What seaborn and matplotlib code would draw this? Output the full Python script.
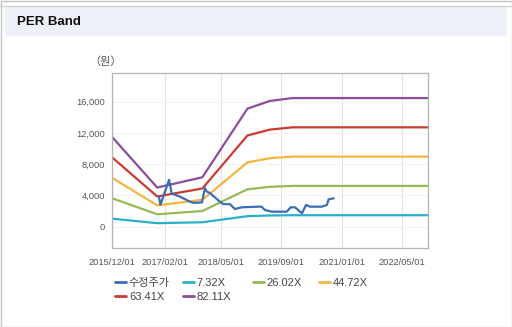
import matplotlib
matplotlib.use("Agg")
import matplotlib.pyplot as plt
from matplotlib.patches import Rectangle
from matplotlib.lines import Line2D
import seaborn as sns
import pandas as pd

sns.set_theme(style="white")
plt.rcParams['font.family'] = ['Liberation Sans', 'Noto Sans CJK KR', 'DejaVu Sans']

# ---------------- data ----------------
band_dates = ["2015-12-01", "2016-12-01", "2017-12-01", "2018-12-01",
              "2019-06-01", "2019-12-01", "2022-12-01"]
band_732 = [1025, 447, 564, 1347, 1435, 1468, 1468]
band_2602 = [3643, 1587, 2004, 4788, 5100, 5217, 5217]
band_4472 = [6261, 2728, 3443, 8228, 8765, 8966, 8966]
band_6341 = [8877, 3868, 4883, 11667, 12428, 12714, 12714]
band_8211 = [11495, 5009, 6322, 15108, 16094, 16463, 16463]

price_dates = ["2016-12-15", "2016-12-27", "2017-03-07", "2017-03-28", "2017-06-03",
               "2017-08-22", "2017-09-19", "2017-11-28", "2017-12-22", "2018-01-06",
               "2018-02-03", "2018-04-22", "2018-05-19", "2018-07-13", "2018-08-22",
               "2018-10-16", "2019-02-28", "2019-03-25", "2019-04-21", "2019-06-15",
               "2019-10-15", "2019-11-16", "2019-12-21", "2020-02-15", "2020-03-19",
               "2020-04-21", "2020-07-25", "2020-09-04", "2020-09-18", "2020-10-28"]
price_vals = [3800, 2800, 6000, 4250, 3850, 3200, 3050, 3100, 4950, 4500,
              4270, 3200, 2900, 2870, 2260, 2480, 2560, 2560, 2140, 1920,
              1920, 2480, 2480, 1710, 2780, 2560, 2560, 2780, 3500, 3630]

series_labels = ["수정주가", "7.32X", "26.02X", "44.72X", "63.41X", "82.11X"]
colors = ["#3d6db5", "#27b2c8", "#93bb58", "#f5b540", "#cc3a32", "#8c4e9b"]

x_ticks = ["2015/12/01", "2017/02/01", "2018/05/01", "2019/09/01", "2021/01/01", "2022/05/01"]
y_ticks = [0, 4000, 8000, 12000, 16000]

# ---------------- figure ----------------
W, H = 512, 327
fig = plt.figure(figsize=(W / 100, H / 100), dpi=100)
fig.patch.set_facecolor("white")

# outer frame and header bar
fig.patches.append(Rectangle((0.5 / W, 0.5 / H), (W - 1) / W, (H - 1) / H,
                             transform=fig.transFigure, fill=False,
                             edgecolor="#c4c4c4", linewidth=1.0))
fig.patches.append(Rectangle((5 / W, 1 - 36 / H), (W - 10) / W, 30 / H,
                             transform=fig.transFigure, facecolor="#eef1f7",
                             edgecolor="none"))
fig.lines.append(Line2D([0, 1], [1 - 6 / H, 1 - 6 / H], transform=fig.transFigure,
                        color="#cfd3d8", linewidth=1.0))
fig.text(17 / W, 1 - 22 / H, "PER Band", fontsize=9.5, fontweight="bold",
         color="#111111", va="center", ha="left")

ax = fig.add_axes([112 / W, 1 - 248 / H, (428 - 112) / W, (248 - 73) / H])

band_df = pd.DataFrame({"date": pd.to_datetime(band_dates)})
band_series = [band_732, band_2602, band_4472, band_6341, band_8211]
for lab, vals, col in zip(series_labels[1:], band_series, colors[1:]):
    sns.lineplot(x=band_df["date"], y=vals, ax=ax, color=col, linewidth=1.6, label=lab)

price_df = pd.DataFrame({"date": pd.to_datetime(price_dates), "price": price_vals})
sns.lineplot(data=price_df, x="date", y="price", ax=ax, color=colors[0],
             linewidth=1.6, label=series_labels[0])

ax.set_xlim(pd.Timestamp("2015-12-01"), pd.Timestamp("2022-12-01"))
ax.set_ylim(-2730, 19670)
tick_dates = pd.to_datetime([t.replace("/", "-") for t in x_ticks])
ax.set_xticks(tick_dates)
ax.set_xticklabels(x_ticks)
ax.set_yticks(y_ticks)
ax.set_yticklabels([f"{v:,}" for v in y_ticks])
ax.set_xlabel("")
ax.set_ylabel("")

ax.tick_params(axis="both", labelsize=6.7, colors="#555555", length=3, width=0.6,
               direction="out", pad=2)
ax.tick_params(axis="x", pad=4)
for sp in ax.spines.values():
    sp.set_color("#b4b4b4")
    sp.set_linewidth(0.9)
ax.grid(axis="x", color="#e2e2e2", linewidth=0.8)
ax.grid(axis="y", color="#f2f2f2", linewidth=0.8)
ax.set_axisbelow(True)

fig.text(106 / W, 1 - 62 / H, "（원）", fontsize=8, color="#555555", ha="center", va="center")

# legend: one small legend per column
handles, labels = ax.get_legend_handles_labels()
ax.get_legend().remove()
hmap = dict(zip(labels, handles))
columns = [(["수정주가", "63.41X"], 115), (["7.32X", "82.11X"], 183),
           (["26.02X"], 253), (["44.72X"], 319)]
for labs, xpix in columns:
    hs = [Line2D([0], [0], color=hmap[l].get_color(), linewidth=2) for l in labs]
    leg = fig.legend(hs, labs, loc="upper left", bbox_to_anchor=(xpix / W, 1 - 278 / H),
                     frameon=False, fontsize=8, handlelength=1.0, handletextpad=0.25,
                     labelspacing=0.35, borderpad=0, borderaxespad=0)
    for t in leg.get_texts():
        t.set_color("#444444")

fig.savefig("out.png", dpi=100)
